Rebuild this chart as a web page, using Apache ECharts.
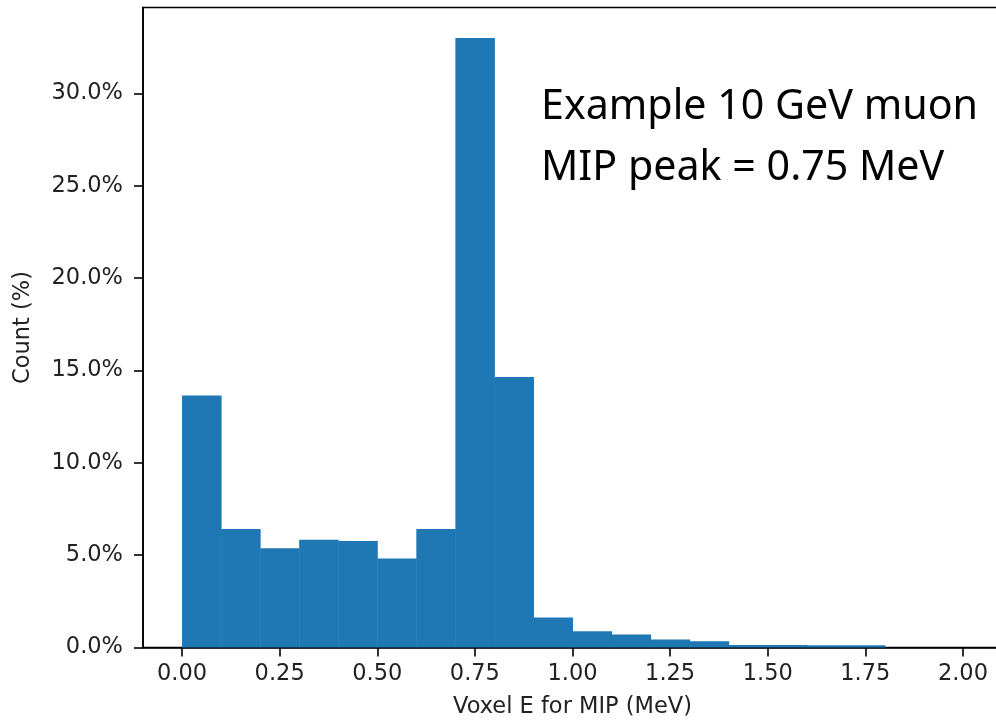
<!DOCTYPE html>
<html>
<head>
<meta charset="utf-8">
<script src="https://cdn.jsdelivr.net/npm/echarts@6/dist/echarts.min.js"></script>
<style>html,body{margin:0;padding:0;background:#fff;}#main{width:996px;height:723px;}</style>
</head>
<body>
<div id="main"></div>
<script>
// Histogram bin edges (MeV), bin width 0.1
const binEdges = [0.0, 0.1, 0.2, 0.3, 0.4, 0.5, 0.6, 0.7, 0.8, 0.9, 1.0,
                  1.1, 1.2, 1.3, 1.4, 1.5, 1.6, 1.7, 1.8, 1.9, 2.0];
// Count per bin (%)
const countsPct = [13.64, 6.42, 5.38, 5.83, 5.76, 4.82, 6.42, 33.0, 14.65, 1.62,
                   0.88, 0.70, 0.43, 0.34, 0.13, 0.13, 0.12, 0.12, 0.0, 0.0];
// Tick labels
const xTicks = [0.0, 0.25, 0.5, 0.75, 1.0, 1.25, 1.5, 1.75, 2.0];
const yTicks = [0, 5, 10, 15, 20, 25, 30];
const annotationLines = ['Example 10 GeV muon', 'MIP peak = 0.75 MeV'];

const histData = countsPct.map((v, i) => [binEdges[i], binEdges[i + 1], v]);

const axisFont = 'DejaVu Sans';
const chart = echarts.init(document.getElementById('main'), null, {renderer: 'canvas'});
chart.setOption({
  animation: false,
  backgroundColor: '#ffffff',
  grid: {
    left: 143, top: 7.5, width: 859, height: 640,
    show: true, borderColor: '#000', borderWidth: 1.6,
    containLabel: false, outerBoundsMode: 'none'
  },
  xAxis: {
    type: 'value', min: -0.1, max: 2.1,
    name: 'Voxel E for MIP (MeV)', nameLocation: 'middle', nameGap: 48,
    nameTextStyle: {fontFamily: axisFont, fontSize: 22.5, color: '#222'},
    axisLine: {show: true, onZero: false, lineStyle: {color: '#000', width: 1.6}},
    axisTick: {show: true, length: 9, lineStyle: {color: '#000', width: 1.6}, customValues: xTicks},
    axisLabel: {show: true, fontFamily: axisFont, fontSize: 22.5, color: '#222', margin: 15,
      customValues: xTicks, formatter: v => Number(v).toFixed(2)},
    splitLine: {show: false}
  },
  yAxis: {
    type: 'value', min: 0, max: 34.65,
    name: 'Count (%)', nameLocation: 'middle', nameGap: 108, nameRotate: 90,
    nameTextStyle: {fontFamily: axisFont, fontSize: 22.5, color: '#222'},
    axisLine: {show: true, onZero: false, lineStyle: {color: '#000', width: 1.6}},
    axisTick: {show: true, length: 9, lineStyle: {color: '#000', width: 1.6}, customValues: yTicks},
    axisLabel: {show: true, fontFamily: axisFont, fontSize: 22.5, color: '#222', margin: 20,
      customValues: yTicks, formatter: v => Number(v).toFixed(1) + '%'},
    splitLine: {show: false}
  },
  series: [{
    type: 'custom',
    data: histData,
    encode: {x: [0, 1], y: 2},
    renderItem: function (params, api) {
      const p0 = api.coord([api.value(0), api.value(2)]);
      const p1 = api.coord([api.value(1), 0]);
      return {
        type: 'rect',
        shape: {x: p0[0], y: p0[1], width: p1[0] - p0[0] + 0.5, height: p1[1] - p0[1]},
        style: {fill: '#1f77b4', stroke: null}
      };
    },
    z: 1
  }],
  graphic: annotationLines.map((t, i) => ({
    type: 'text', x: 541, y: 107 + i * 61,
    style: {text: t, fontFamily: 'Noto Sans', fontSize: 41.2, fill: '#000',
      textAlign: 'left', textVerticalAlign: 'middle'}
  }))
});
</script>
</body>
</html>
